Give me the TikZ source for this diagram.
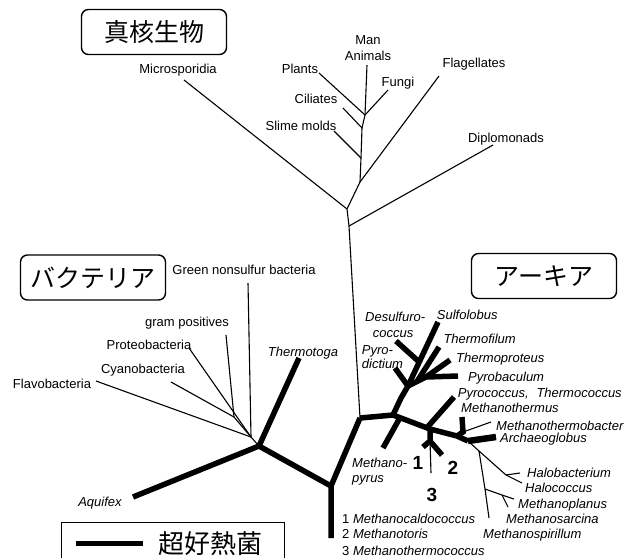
\documentclass[tikz,border=0pt]{standalone}
\usepackage{fontspec}
\setmainfont{Liberation Sans}
\newfontfamily\jp{Noto Sans CJK JP}
\begin{document}
\begin{tikzpicture}[x=1pt,y=-1pt,
 tl/.style={line width=1.1pt},
 tk/.style={line width=5.5pt},
 lab/.style={inner sep=0pt,text height=9pt,text depth=0pt,font=\fontsize{13}{15}\selectfont},
 ilab/.style={lab,font=\fontsize{13}{15}\selectfont\itshape},
 num/.style={inner sep=0pt,text height=13pt,text depth=0pt,font=\fontsize{19}{19}\selectfont\bfseries},
 gbox/.style={draw,line width=1.4pt,rounded corners=7pt,minimum width=145pt,minimum height=45pt,inner sep=0pt,font=\jp\fontsize{25}{25}\selectfont},
]
\useasboundingbox (0,0) rectangle (639,558);

% group boxes
\node[gbox] (euk) at (154,32) {真核生物};
\node[gbox] (bac) at (93,277.5) {バクテリア};
\node[gbox] (arc) at (544,276) {アーキア};

% ---------- Eukaryotes ----------
\coordinate (R) at (360,418);
\coordinate (E1) at (349,226);
\coordinate (E2) at (347,209);
\coordinate (E3) at (360,182);
\coordinate (E4) at (361,158);
\coordinate (E5) at (362,128);
\coordinate (E6) at (365,115);
\coordinate (Dip) at (493,145);
\coordinate (Mic) at (184,80);
\coordinate (Fla) at (439,76);
\coordinate (Sli) at (334,131);
\coordinate (Cil) at (343,108);
\coordinate (Pla) at (319,73);
\coordinate (Fun) at (388,90);
\coordinate (Ani) at (367,65);
\draw[tl] (R) -- (E1) -- (E2) -- (E3) -- (E4) -- (E5) -- (E6) -- (Ani);
\draw[tl] (E1) -- (Dip);
\draw[tl] (E2) -- (Mic);
\draw[tl] (E3) -- (Fla);
\draw[tl] (E4) -- (Sli);
\draw[tl] (E5) -- (Cil);
\draw[tl] (E6) -- (Pla);
\draw[tl] (E6) -- (Fun);

\node[lab] (tMan) at (368,40) {Man};
\node[lab] (tAni) at (368,56) {Animals};
\node[lab] (tPla) at (300,69) {Plants};
\node[lab] (tFun) at (398,82) {Fungi};
\node[lab] (tCil) at (316,99) {Ciliates};
\node[lab] (tSli) at (301,126) {Slime molds};
\node[lab] (tFla) at (474,63) {Flagellates};
\node[lab] (tDip) at (506,138) {Diplomonads};
\node[lab] (tMic) at (178,69) {Microsporidia};

% ---------- Bacteria ----------
\coordinate (B0) at (259,446);
\coordinate (Aq) at (133,497);
\coordinate (Tt) at (299,358);
\coordinate (B1) at (331,486);
\coordinate (B2) at (331,538);
\coordinate (Bt) at (251,437);
\coordinate (Bg) at (234,417);
\coordinate (Gr) at (248,283);
\coordinate (Gp) at (226,335);
\coordinate (Cy) at (171,382);
\coordinate (Pr) at (189,348);
\coordinate (Fl) at (96,381);
\draw[tl] (B0) -- (Bt);
\draw[tl] (Bt) -- (Gr);
\draw[tl] (Bt) -- (Bg) -- (Gp);
\draw[tl] (Bg) -- (Cy);
\draw[tl] (Bt) -- (Pr);
\draw[tl] (Bt) -- (Fl);
\draw[tk] (Aq) -- (B0) -- (B1) -- (B2);
\draw[tk] (B0) -- (Tt);
\draw[tk] (B1) -- (R);

\node[lab] (tGr) at (244,270) {Green nonsulfur bacteria};
\node[lab] (tGp) at (187,322) {gram positives};
\node[lab] (tPr) at (149,345) {Proteobacteria};
\node[lab] (tCy) at (143,369) {Cyanobacteria};
\node[lab] (tFl) at (52,384) {Flavobacteria};
\node[ilab] (tTt) at (303,352) {Thermotoga};
\node[ilab] (tAq) at (100,502) {Aquifex};

% ---------- Archaea ----------
\coordinate (A1) at (393,415);
\coordinate (A2) at (430,429);
\coordinate (A3) at (457,436);
\coordinate (A4) at (468,441);
\draw[tk] (R) -- (A1) -- (A2) -- (A3) -- (A4);
% Methanopyrus
\coordinate (MpJ) at (400,417.6);
\coordinate (Mp) at (383,448);
\draw[tk] (MpJ) -- (Mp);
% Crenarchaeota
\coordinate (C1) at (401,398);
\coordinate (C2) at (408,386);
\coordinate (C3) at (426,377);
\coordinate (Pyd) at (395,368);
\coordinate (Sul) at (438,322);
\coordinate (DsJ) at (419.2,362);
\coordinate (Des) at (396,341);
\coordinate (TfJ) at (417,381.5);
\coordinate (Tf) at (439,347);
\coordinate (Tp) at (450,360);
\coordinate (Pb) at (458,376);
\draw[tk] (A1) -- (C1) -- (C2) -- (Sul);
\draw[tk] (C2) -- (Pyd);
\draw[tk] (DsJ) -- (Des);
\draw[tk] (C2) -- (C3) -- (Pb);
\draw[tk] (C3) -- (Tp);
\draw[tk] (TfJ) -- (Tf);
% Pyrococcus
\coordinate (PcJ) at (427,427.6);
\coordinate (Pc) at (454,397);
\draw[tk] (PcJ) -- (Pc);
% 1 2 3
\coordinate (N0) at (430,441);
\coordinate (N1) at (423,447);
\coordinate (N2) at (442,455);
\coordinate (N3) at (431,473);
\draw[tk] (A2) -- (N0) -- (N1);
\draw[tk] (N0) -- (N2);
\draw[tl] (N0) -- (N3);
% Methanothermus
\coordinate (MtJ) at (463,432);
\coordinate (Mt) at (462,417);
\coordinate (Mtb) at (491,422);
\draw[tk] (A3) -- (MtJ) -- (Mt);
\draw[tl] (MtJ) -- (Mtb);
% Archaeoglobus
\coordinate (Arc) at (496,437);
\draw[line width=6.5pt] (A4) -- (Arc);
% Euryarchaeota thin
\coordinate (HJ) at (479,451);
\coordinate (H) at (506,475);
\coordinate (Hc) at (522,483);
\coordinate (Hb) at (520,473);
\coordinate (MsJ) at (485,489);
\coordinate (Msp) at (489,518);
\coordinate (MpJ2) at (502,495);
\coordinate (Mpl) at (514,499);
\coordinate (Msa) at (508,507);
\draw[tl] (A4) -- (HJ) -- (H) -- (Hc);
\draw[tl] (H) -- (Hb);
\draw[tl] (HJ) -- (MsJ) -- (Msp);
\draw[tl] (MsJ) -- (MpJ2) -- (Mpl);
\draw[tl] (MpJ2) -- (Msa);

\node[ilab,anchor=west] (tDes) at (365,317) {Desulfuro-};
\node[ilab,anchor=west] (tDes2) at (372.7,333) {coccus};
\node[ilab,anchor=west] (tPyd) at (361.7,350) {Pyro-};
\node[ilab,anchor=west] (tPyd2) at (361.7,364) {dictium};
\node[ilab,anchor=west] (tSul) at (436.7,315) {Sulfolobus};
\node[ilab,anchor=west] (tTf) at (443.3,339) {Thermofilum};
\node[ilab,anchor=west] (tTp) at (456,358) {Thermoproteus};
\node[ilab,anchor=west] (tPb) at (468,377) {Pyrobaculum};
\node[ilab,anchor=west] (tPc) at (457.7,393) {Pyrococcus,\hspace{0.6em}Thermococcus};
\node[ilab,anchor=west] (tMt) at (461,408) {Methanothermus};
\node[ilab,anchor=west] (tMtb) at (496,426) {Methanothermobacter};
\node[ilab,anchor=west] (tArc) at (500,438) {Archaeoglobus};
\node[ilab,anchor=west] (tHb) at (527,473) {Halobacterium};
\node[ilab,anchor=west] (tHc) at (525,488) {Halococcus};
\node[ilab,anchor=west] (tMpl) at (518,504) {Methanoplanus};
\node[ilab,anchor=west] (tMsa) at (506,519) {Methanosarcina};
\node[ilab,anchor=west] (tMsp) at (483,534) {Methanospirillum};
\node[ilab,anchor=west] (tMp) at (352,463) {Methano-};
\node[ilab,anchor=west] (tMp2) at (352,478) {pyrus};
\node[num] (n1) at (418,463) {1};
\node[num] (n2) at (453,468) {2};
\node[num] (n3) at (432,495) {3};
\node[lab,anchor=west] (k1) at (342,519) {1 \textit{Methanocaldococcus}};
\node[lab,anchor=west] (k2) at (342,534) {2 \textit{Methanotoris}};
\node[lab,anchor=west] (k3) at (342,551) {3 \textit{Methanothermococcus}};

% ---------- legend ----------
\draw[line width=1pt] (61.7,558) -- (61.7,522.3) -- (284,522.3) -- (284,558);
\coordinate (Lg0) at (76,543);
\coordinate (Lg1) at (143,543);
\draw[line width=5pt] (Lg0) -- (Lg1);
\node[inner sep=0pt,font=\jp\fontsize{26}{26}\selectfont] (leg) at (210,544) {超好熱菌};
\end{tikzpicture}
\end{document}
